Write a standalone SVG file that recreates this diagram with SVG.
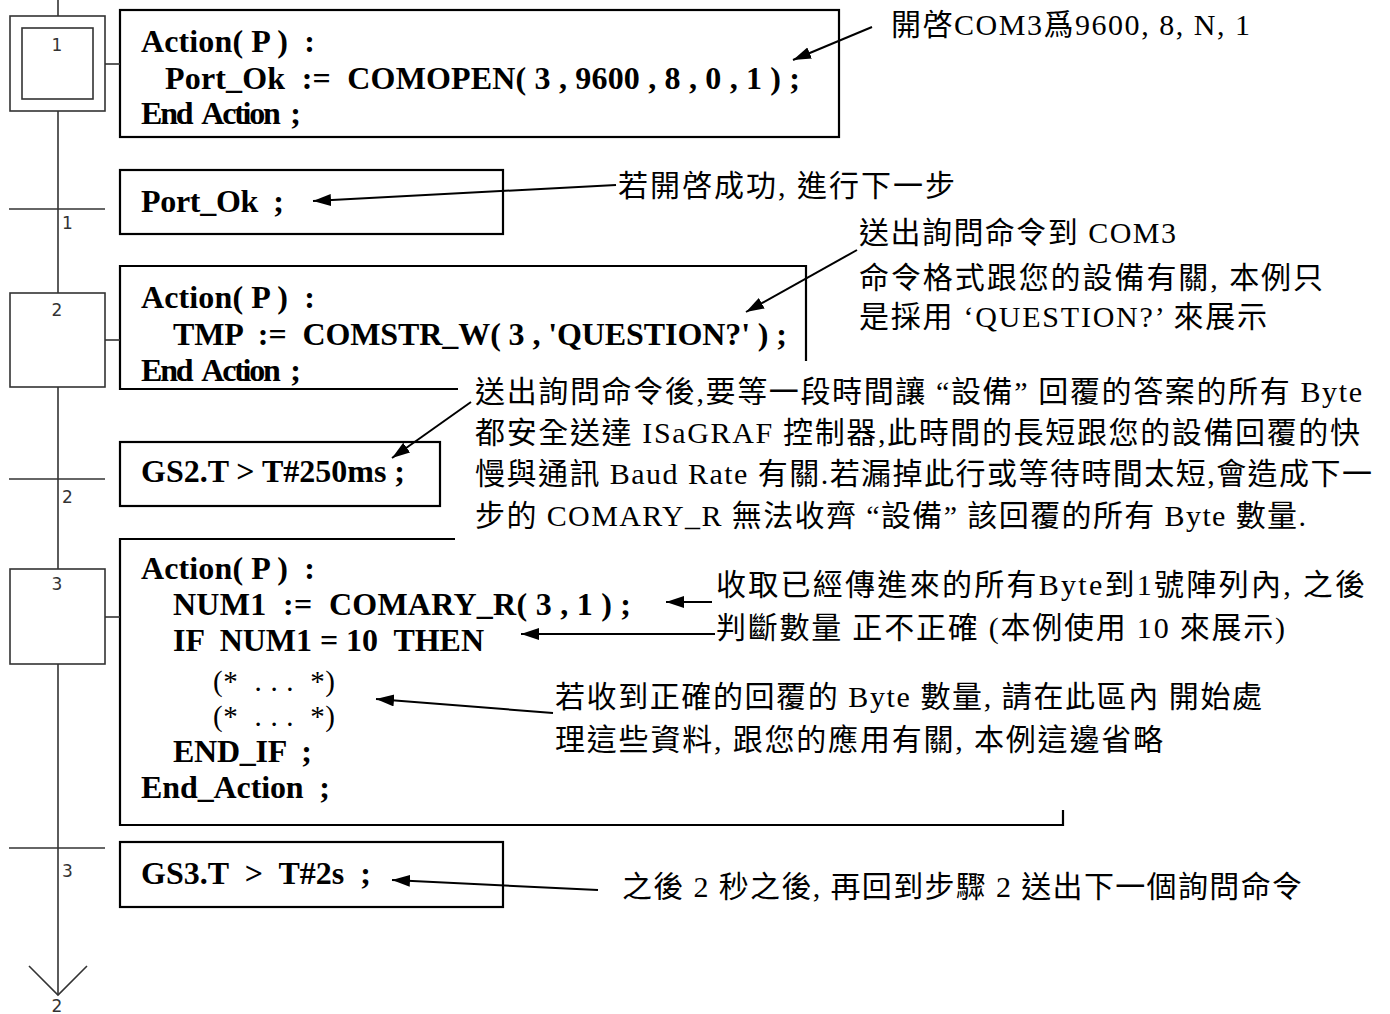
<svg xmlns="http://www.w3.org/2000/svg" width="1390" height="1014" viewBox="0 0 1390 1014">
<style>
.bg{fill:#fff}
.step{fill:#fff;stroke:#333;stroke-width:1.6}
.trans{stroke:#333;stroke-width:1.6}
.chain{stroke:#333;stroke-width:1.6;fill:none}
.box{fill:#fff;stroke:#000;stroke-width:2.2}
.boxp{fill:none;stroke:#000;stroke-width:2.2}
.num{font-family:"DejaVu Sans",sans-serif;font-size:17px;fill:#333}
.code{font-family:"Liberation Serif","Times New Roman",serif;font-weight:bold;font-size:32px;fill:#000;white-space:pre}
.coder{font-family:"Liberation Serif","Times New Roman",serif;font-size:29px;fill:#000;white-space:pre}
.note{font-family:"Liberation Serif","Noto Sans CJK TC",serif;font-size:30px;fill:#000}
.arr{stroke:#000;stroke-width:2;fill:none;marker-end:url(#ah)}
</style>
<defs>
<marker id="ah" markerUnits="userSpaceOnUse" markerWidth="20" markerHeight="14" refX="18" refY="6" orient="auto">
<path d="M0,0 L18,6 L0,12 z" fill="#000"/>
</marker>
</defs>
<rect class="bg" width="1390" height="1014"/>

<g id="chainline">
<line class="chain" x1="58" y1="0" x2="58" y2="995"/>
</g>

<g id="step1">
<rect class="step" x="10" y="16" width="95" height="95"/>
<rect class="step" x="22" y="28" width="71" height="71"/>
<text class="num" x="57" y="51" text-anchor="middle">1</text>
</g>
<g id="trans1">
<line class="trans" x1="9" y1="209" x2="105" y2="209"/>
<text class="num" x="62" y="229">1</text>
</g>
<g id="step2">
<rect class="step" x="10" y="293" width="95" height="94"/>
<text class="num" x="57" y="316" text-anchor="middle">2</text>
</g>
<g id="trans2">
<line class="trans" x1="9" y1="479" x2="105" y2="479"/>
<text class="num" x="62" y="503">2</text>
</g>
<g id="step3">
<rect class="step" x="10" y="569" width="95" height="95"/>
<text class="num" x="57" y="590" text-anchor="middle">3</text>
</g>
<g id="trans3">
<line class="trans" x1="9" y1="848" x2="105" y2="848"/>
<text class="num" x="62" y="877">3</text>
</g>
<g id="jump2">
<text class="num" x="57" y="1012" text-anchor="middle">2</text>
</g>

<g id="action1">
<rect class="box" x="120" y="10" width="719" height="127"/>
<text class="code" x="141" y="52" textLength="174">Action( P )  :</text>
<text class="code" x="165" y="89" textLength="635">Port_Ok  :=  COMOPEN( 3 , 9600 , 8 , 0 , 1 ) ;</text>
<text class="code" x="141" y="124" textLength="160">End  Action  ;</text>
</g>
<g id="cond1">
<rect class="box" x="120" y="170" width="383" height="64"/>
<text class="code" x="141" y="212" textLength="143">Port_Ok  ;</text>
</g>
<g id="action2">
<path class="boxp" d="M458,389 H120 V266 H806 V361"/>
<text class="code" x="141" y="308" textLength="174">Action( P )  :</text>
<text class="code" x="173" y="345" textLength="614">TMP  :=  COMSTR_W( 3 , 'QUESTION?' ) ;</text>
<text class="code" x="141" y="381" textLength="160">End  Action  ;</text>
</g>
<g id="cond2">
<rect class="box" x="120" y="442" width="320" height="64"/>
<text class="code" x="141" y="482" textLength="264">GS2.T &gt; T#250ms ;</text>
</g>
<g id="action3">
<path class="boxp" d="M455,539 H120 V825 H1063 V810"/>
<text class="code" x="141" y="579" textLength="174">Action( P )  :</text>
<text class="code" x="173" y="615" textLength="458">NUM1  :=  COMARY_R( 3 , 1 ) ;</text>
<text class="code" x="173" y="651" textLength="311">IF  NUM1 = 10  THEN</text>
<text class="coder" x="213" y="691" textLength="122">(*  . . .  *)</text>
<text class="coder" x="213" y="726" textLength="122">(*  . . .  *)</text>
<text class="code" x="173" y="762" textLength="139">END_IF  ;</text>
<text class="code" x="141" y="798" textLength="189">End_Action  ;</text>
</g>
<g id="cond3">
<rect class="box" x="120" y="842" width="383" height="65"/>
<text class="code" x="141" y="884" textLength="230">GS3.T  &gt;  T#2s  ;</text>
</g>

<g id="note1">
<text class="note" x="891" y="35" textLength="359">開啓COM3爲9600, 8, N, 1</text>
</g>
<g id="note2">
<text class="note" x="618" y="196" textLength="337">若開啓成功, 進行下一步</text>
</g>
<g id="note3">
<text class="note" x="859" y="243" textLength="317">送出詢問命令到 COM3</text>
<text class="note" x="859" y="288" textLength="464">命令格式跟您的設備有關, 本例只</text>
<text class="note" x="859" y="327" textLength="408">是採用 ‘QUESTION?’ 來展示</text>
</g>
<g id="note4">
<text class="note" x="475" y="402" textLength="887">送出詢問命令後,要等一段時間讓 “設備” 回覆的答案的所有 Byte</text>
<text class="note" x="475" y="443" textLength="885">都安全送達 ISaGRAF 控制器,此時間的長短跟您的設備回覆的快</text>
<text class="note" x="475" y="484" textLength="897">慢與通訊 Baud Rate 有關.若漏掉此行或等待時間太短,會造成下一</text>
<text class="note" x="475" y="526" textLength="831">步的 COMARY_R 無法收齊 “設備” 該回覆的所有 Byte 數量.</text>
</g>
<g id="note5">
<text class="note" x="716" y="595" textLength="649">收取已經傳進來的所有Byte到1號陣列內, 之後</text>
<text class="note" x="716" y="638" textLength="569">判斷數量 正不正確 (本例使用 10 來展示)</text>
</g>
<g id="note6">
<text class="note" x="555" y="707" textLength="707">若收到正確的回覆的 Byte 數量, 請在此區內 開始處</text>
<text class="note" x="555" y="750" textLength="608">理這些資料, 跟您的應用有關, 本例這邊省略</text>
</g>
<g id="note7">
<text class="note" x="622" y="897" textLength="680">之後 2 秒之後, 再回到步驟 2 送出下一個詢問命令</text>
</g>

<g id="connectors">
<line class="chain" x1="105" y1="64" x2="120" y2="64"/>
<line class="chain" x1="105" y1="340" x2="120" y2="340"/>
<line class="chain" x1="105" y1="617" x2="120" y2="617"/>
<polyline class="chain" points="29,966 58,995 87,966"/>
<line class="arr" x1="872" y1="27" x2="793" y2="60"/>
<line class="arr" x1="616" y1="185" x2="313" y2="201"/>
<line class="arr" x1="857" y1="250" x2="746" y2="312"/>
<line class="arr" x1="471" y1="402" x2="392" y2="458"/>
<line class="arr" x1="712" y1="602" x2="666" y2="602"/>
<line class="arr" x1="715" y1="634" x2="521" y2="634"/>
<line class="arr" x1="553" y1="713" x2="376" y2="699"/>
<line class="arr" x1="598" y1="890" x2="392" y2="880"/>
</g>
</svg>
